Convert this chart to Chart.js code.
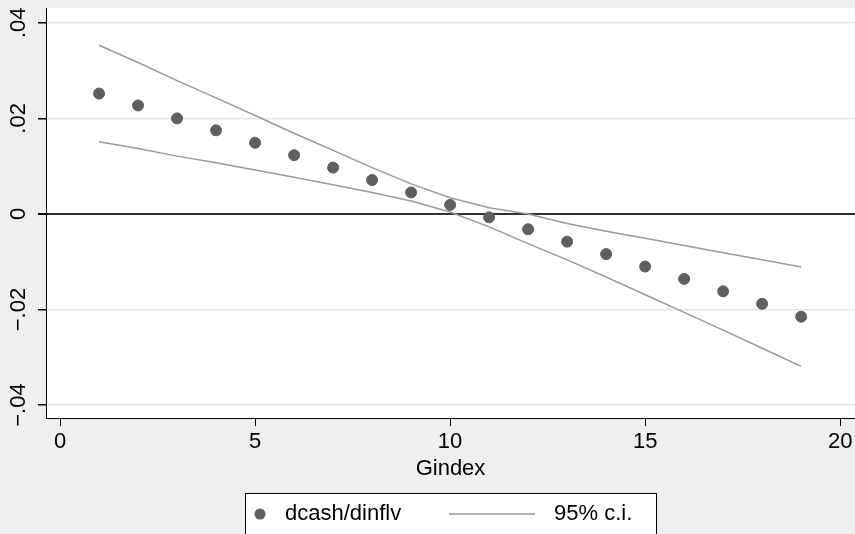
<!DOCTYPE html>
<html>
<head>
<meta charset="utf-8">
<script src="https://cdn.jsdelivr.net/npm/chart.js@4"></script>
<style>
html, body { margin: 0; padding: 0; background: #efefef; overflow: hidden; }
#wrap { width: 855px; height: 534px; }
</style>
</head>
<body>
<div id="wrap"><canvas id="myChart"></canvas></div>
<script>
Chart.defaults.font.family = "'Liberation Sans', Arial, Helvetica, sans-serif";
Chart.defaults.font.size = 22;
Chart.defaults.color = '#000';

// data
var gindex = [1, 2, 3, 4, 5, 6, 7, 8, 9, 10, 11, 12, 13, 14, 15, 16, 17, 18, 19];
var effect = [0.0252, 0.0227, 0.0200, 0.0175, 0.0149, 0.0123, 0.0097, 0.0071, 0.0045, 0.0019,
  -0.0007, -0.0032, -0.0058, -0.0084, -0.0110, -0.0136, -0.0162, -0.0188, -0.0215];
var ciUpper = [0.0353, 0.0317, 0.0279, 0.0243, 0.0206, 0.0169, 0.0133, 0.0097, 0.0063, 0.0034,
  0.0013, 0.0000, -0.0020, -0.0036, -0.0051, -0.0066, -0.0081, -0.0096, -0.0111];
var ciLower = [0.0151, 0.0137, 0.0121, 0.0107, 0.0092, 0.0077, 0.0061, 0.0045, 0.0027, 0.0004,
  -0.0027, -0.0062, -0.0096, -0.0132, -0.0169, -0.0206, -0.0243, -0.0281, -0.0319];
var xTicks = [0, 5, 10, 15, 20];
var yTicks = [-0.04, -0.02, 0, 0.02, 0.04];
var yTickLabels = ['\u2212.04', '\u2212.02', '0', '.02', '.04'];

var dotColor = '#5f5f5f';
var ciColor = '#9a9a9a';

function toPoints(ys) {
  return gindex.map(function (g, i) { return { x: g, y: ys[i] }; });
}

// gray page, white plot region, rotated y labels, framed legend
var stataLook = {
  id: 'stataLook',
  beforeDraw: function (chart) {
    var c = chart.ctx, a = chart.chartArea;
    c.save();
    c.fillStyle = '#efefef';
    c.fillRect(0, 0, chart.width, chart.height);
    c.fillStyle = '#ffffff';
    c.fillRect(a.left, a.top, a.right - a.left, a.bottom - a.top);
    c.restore();
  },
  afterDraw: function (chart) {
    var c = chart.ctx, ys = chart.scales.y, a = chart.chartArea;
    c.save();
    c.font = "22px 'Liberation Sans', Arial, sans-serif";
    c.fillStyle = '#000';
    c.textAlign = 'center';
    c.textBaseline = 'alphabetic';
    yTicks.forEach(function (v, i) {
      c.save();
      c.translate(25, ys.getPixelForValue(v));
      c.rotate(-Math.PI / 2);
      c.fillText(yTickLabels[i], 0, 0);
      c.restore();
    });

    // legend
    var cx = (a.left + a.right) / 2;
    var bx = cx - 205.5, by = 493, bw = 411, bh = 60;
    c.fillStyle = '#ffffff';
    c.fillRect(bx, by, bw, bh);
    c.strokeStyle = '#000';
    c.lineWidth = 1;
    c.strokeRect(bx + 0.5, by + 0.5, bw, bh);
    var ly = by + 21;
    c.fillStyle = dotColor;
    c.beginPath();
    c.arc(bx + 15, ly, 5.5, 0, Math.PI * 2);
    c.fill();
    c.fillStyle = '#000';
    c.textAlign = 'left';
    c.textBaseline = 'middle';
    c.fillText(chart.data.datasets[0].label, bx + 40, ly);
    c.strokeStyle = ciColor;
    c.lineWidth = 1.5;
    c.beginPath();
    c.moveTo(bx + 204, ly);
    c.lineTo(bx + 290, ly);
    c.stroke();
    c.fillText(chart.data.datasets[1].label, bx + 309, ly);
    c.restore();
  }
};

var ctx = document.getElementById('myChart');

var myChart = new Chart(ctx, {
  type: 'scatter',
  data: {
    datasets: [{
      label: 'dcash/dinflv',
      data: toPoints(effect),
      backgroundColor: dotColor,
      borderColor: dotColor,
      pointRadius: 5.5,
      order: 0
    }, {
      label: '95% c.i.',
      data: toPoints(ciUpper),
      showLine: true,
      borderColor: ciColor,
      borderWidth: 1.5,
      pointRadius: 0,
      tension: 0,
      order: 1
    }, {
      label: '95% c.i.',
      data: toPoints(ciLower),
      showLine: true,
      borderColor: ciColor,
      borderWidth: 1.5,
      pointRadius: 0,
      tension: 0,
      order: 1
    }]
  },
  options: {
    responsive: true,
    maintainAspectRatio: false,
    animation: false,
    layout: { autoPadding: false, padding: { top: 8, left: 0, right: 0, bottom: 0 } },
    plugins: {
      legend: { display: false },
      tooltip: { enabled: false }
    },
    scales: {
      x: {
        min: -0.36,
        max: 20.38,
        afterBuildTicks: function (s) { s.ticks = xTicks.map(function (v) { return { value: v }; }); },
        afterFit: function (s) {
          s.height = 116;
          s.paddingLeft = 0;
          s.paddingRight = 0;
        },
        ticks: { maxRotation: 0, padding: 3 },
        grid: { drawOnChartArea: false, tickLength: 8, tickColor: '#000', tickWidth: 1 },
        border: { color: '#000', width: 1 },
        title: { display: true, text: 'Gindex', padding: { top: 0, bottom: 52 } }
      },
      y: {
        min: -0.0427,
        max: 0.0431,
        afterBuildTicks: function (s) { s.ticks = yTicks.map(function (v) { return { value: v }; }); },
        afterFit: function (s) {
          s.width = 46;
          s.paddingTop = 0;
          s.paddingBottom = 0;
        },
        ticks: { display: false },
        grid: {
          tickLength: 8,
          tickColor: '#000',
          color: function (c) { return c.tick && c.tick.value === 0 ? '#333333' : '#e6e6e6'; },
          lineWidth: function (c) { return c.tick && c.tick.value === 0 ? 2 : 1.5; }
        },
        border: { color: '#000', width: 1 }
      }
    }
  },
  plugins: [stataLook]
});
</script>
</body>
</html>
